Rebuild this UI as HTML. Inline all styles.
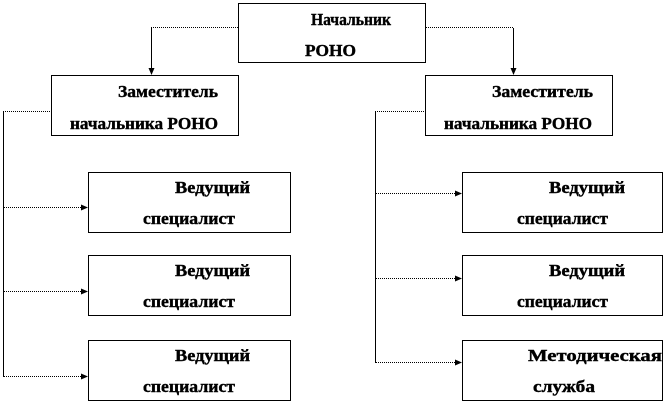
<!DOCTYPE html>
<html><head><meta charset="utf-8"><style>
html,body{margin:0;padding:0;background:#fff;width:665px;height:402px;overflow:hidden}
text{font-family:"Liberation Serif","DejaVu Serif",serif;font-weight:bold;font-size:17px;fill:#000;stroke:#000;stroke-width:0.4}
</style></head><body>
<svg width="665" height="402" xmlns="http://www.w3.org/2000/svg">
<defs><marker id="a" markerWidth="8" markerHeight="8" refX="6" refY="4" orient="auto" markerUnits="userSpaceOnUse"><path d="M0,1 L7,4 L0,7 Z" fill="#000"/></marker></defs>
<g fill="none" stroke="#000" stroke-width="1">
<rect x="238.5" y="3.5" width="187" height="59"/>
<rect x="51.5" y="75.5" width="187" height="60"/>
<rect x="425.5" y="75.5" width="187" height="60"/>
<rect x="88.5" y="172.5" width="202" height="60"/>
<rect x="88.5" y="255.5" width="202" height="60"/>
<rect x="88.5" y="340.5" width="202" height="60"/>
<rect x="462.5" y="172.5" width="200" height="60"/>
<rect x="462.5" y="255.5" width="200" height="60"/>
<rect x="462.5" y="340.5" width="200" height="60"/>
<line x1="3.5" y1="111" x2="3.5" y2="377"/>
<line x1="375.5" y1="111" x2="375.5" y2="363"/>
<line x1="151.5" y1="28" x2="151.5" y2="74" marker-end="url(#a)"/>
<line x1="513.5" y1="28" x2="513.5" y2="74" marker-end="url(#a)"/>
</g>
<g fill="none" stroke="#000" stroke-width="1" stroke-dasharray="1,1">
<line x1="151" y1="27.5" x2="238" y2="27.5"/>
<line x1="426" y1="27.5" x2="513" y2="27.5"/>
<line x1="3" y1="111.5" x2="51" y2="111.5"/>
<line x1="375" y1="111.5" x2="425" y2="111.5"/>
<line x1="4" y1="207.5" x2="87" y2="207.5" marker-end="url(#a)"/>
<line x1="4" y1="291.5" x2="87" y2="291.5" marker-end="url(#a)"/>
<line x1="4" y1="376.5" x2="87" y2="376.5" marker-end="url(#a)"/>
<line x1="376" y1="193.5" x2="461" y2="193.5" marker-end="url(#a)"/>
<line x1="376" y1="278.5" x2="461" y2="278.5" marker-end="url(#a)"/>
<line x1="376" y1="362.5" x2="461" y2="362.5" marker-end="url(#a)"/>
</g>
<g lengthAdjust="spacingAndGlyphs">
<text x="311" y="25" textLength="80" lengthAdjust="spacingAndGlyphs">Начальник</text>
<text x="305" y="56" textLength="51" lengthAdjust="spacingAndGlyphs">РОНО</text>
<text x="118" y="97" textLength="100" lengthAdjust="spacingAndGlyphs">Заместитель</text>
<text x="70" y="129" textLength="148" lengthAdjust="spacingAndGlyphs">начальника РОНО</text>
<text x="492" y="97" textLength="101" lengthAdjust="spacingAndGlyphs">Заместитель</text>
<text x="444" y="129" textLength="148" lengthAdjust="spacingAndGlyphs">начальника РОНО</text>
<text x="175" y="193" textLength="75" lengthAdjust="spacingAndGlyphs">Ведущий</text>
<text x="143" y="224" textLength="92" lengthAdjust="spacingAndGlyphs">специалист</text>
<text x="175" y="276" textLength="75" lengthAdjust="spacingAndGlyphs">Ведущий</text>
<text x="143" y="307" textLength="92" lengthAdjust="spacingAndGlyphs">специалист</text>
<text x="175" y="361" textLength="75" lengthAdjust="spacingAndGlyphs">Ведущий</text>
<text x="143" y="392" textLength="92" lengthAdjust="spacingAndGlyphs">специалист</text>
<text x="549" y="193" textLength="76" lengthAdjust="spacingAndGlyphs">Ведущий</text>
<text x="517" y="224" textLength="91" lengthAdjust="spacingAndGlyphs">специалист</text>
<text x="549" y="276" textLength="76" lengthAdjust="spacingAndGlyphs">Ведущий</text>
<text x="517" y="307" textLength="91" lengthAdjust="spacingAndGlyphs">специалист</text>
<text x="528" y="361" textLength="134" lengthAdjust="spacingAndGlyphs">Методическая</text>
<text x="533" y="392" textLength="62" lengthAdjust="spacingAndGlyphs">служба</text>
</g>
</svg>
</body></html>
